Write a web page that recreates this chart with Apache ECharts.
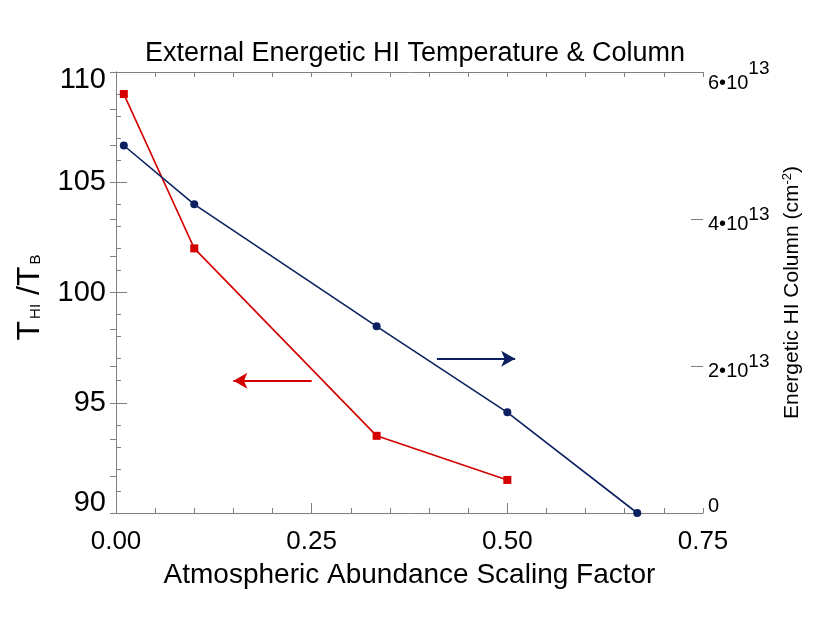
<!DOCTYPE html>
<html><head><meta charset="utf-8">
<script src="https://cdn.jsdelivr.net/npm/echarts@6/dist/echarts.min.js"></script>
<style>html,body{margin:0;padding:0;background:#fff}#c{width:830px;height:623px}</style>
</head><body><div id="c"></div>
<script>
const xRed = [0.01, 0.1, 0.333, 0.5];
const tempRed = [109.0, 102.0, 93.5, 91.5];
const xBlue = [0.01, 0.1, 0.333, 0.5, 0.666];
const colBlue = [5.0e13, 4.2e13, 2.54e13, 1.37e13, 0.0];
const xTickLabels = [0, 0.25, 0.5, 0.75];
const leftTickLabels = [90, 95, 100, 105, 110];
const rightTickLabels = [0, 2e13, 4e13, 6e13];
const redArrow = {from: [0.25, 96], to: [0.15, 96]};
const blueArrow = {from: [0.41, 2.1e13], to: [0.51, 2.1e13]};

const FONT = 'Liberation Sans, Arial, Helvetica, sans-serif';
const AX = '#808080';
const RED = '#d40000';
const BLUE = '#0c2061';

const chart = echarts.init(document.getElementById('c'));
chart.setOption({
  animation: false,
  backgroundColor: '#fff',
  title: {text: 'External Energetic HI Temperature & Column', left: 'center', top: 35,
    textStyle: {fontFamily: FONT, fontSize: 27, fontWeight: 'normal', color: '#000'}},
  grid: {left: 116, right: 127, top: 72, bottom: 110},
  xAxis: [
    {type: 'value', position: 'bottom', min: 0, max: 0.75, interval: 0.05,
     axisLine: {lineStyle: {color: AX}}, splitLine: {show: false},
     axisTick: {inside: true, length: 5, lineStyle: {color: AX}},
     axisLabel: {customValues: xTickLabels, formatter: v => v.toFixed(2), fontFamily: FONT, fontSize: 26, color: '#000', margin: 16},
     name: 'Atmospheric Abundance Scaling Factor', nameLocation: 'middle', nameGap: 48,
     nameTextStyle: {fontFamily: FONT, fontSize: 28, color: '#000'}},
    {type: 'value', position: 'bottom', min: 0, max: 0.75,
     axisLine: {show: false}, splitLine: {show: false},
     axisTick: {inside: true, length: 10, customValues: [0.25, 0.5], lineStyle: {color: AX}},
     axisLabel: {show: false}},
    {type: 'value', position: 'top', min: 0, max: 0.75, interval: 0.05,
     axisLine: {lineStyle: {color: AX}}, splitLine: {show: false},
     axisTick: {inside: true, length: 5, lineStyle: {color: AX}},
     axisLabel: {show: false}}
  ],
  yAxis: [
    {type: 'value', position: 'left', min: 90, max: 110, interval: 1,
     axisLine: {show: true, lineStyle: {color: AX}}, splitLine: {show: false},
     axisTick: {inside: true, length: 5, lineStyle: {color: AX}},
     axisLabel: {customValues: leftTickLabels, margin: 10,
       formatter: v => v === 110 ? '{d|110}' : (v === 90 ? '{u|90}' : '{n|' + v + '}'),
       rich: {
         n: {fontFamily: FONT, fontSize: 29, color: '#000'},
         d: {fontFamily: FONT, fontSize: 29, color: '#000', padding: [16, 0, 0, 0]},
         u: {fontFamily: FONT, fontSize: 29, color: '#000', padding: [0, 0, 20, 0]}
       }},
     name: '{t|T}{s|HI}{t| /T}{s|B}', nameLocation: 'middle', nameRotate: 90, nameGap: 70,
     nameTextStyle: {padding: [0, 10, 0, 0], rich: {
       t: {fontFamily: FONT, fontSize: 32, color: '#000'},
       s: {fontFamily: FONT, fontSize: 15, color: '#000', padding: [12, 0, 0, 2]}
     }}},
    {type: 'value', position: 'left', min: 90, max: 110,
     axisLine: {show: false}, splitLine: {show: false},
     axisTick: {inside: true, length: 11, customValues: [95, 100, 105], lineStyle: {color: AX}},
     axisLabel: {show: false}},
    {type: 'value', position: 'right', min: 0, max: 6e13, interval: 0.5e13,
     axisLine: {show: true, lineStyle: {color: AX}}, splitLine: {show: false},
     axisTick: {inside: true, length: 6, lineStyle: {color: AX}},
     axisLabel: {customValues: rightTickLabels, margin: 5,
       formatter: v => v === 0 ? '{z|0}' : (v === 6e13 ? '{bt|6•10}{pt|13}' : '{b|' + Math.round(v / 1e13) + '•10}{p|13}'),
       rich: {b: {fontFamily: FONT, fontSize: 20, color: '#000', padding: [10, 0, 0, 0]},
              p: {fontFamily: FONT, fontSize: 19, color: '#000', padding: [0, 0, 8, 0]},
              bt: {fontFamily: FONT, fontSize: 20, color: '#000', padding: [22, 0, 0, 0]},
              pt: {fontFamily: FONT, fontSize: 19, color: '#000', padding: [0, 0, 6, 0]},
              z: {fontFamily: FONT, fontSize: 20, color: '#000', padding: [0, 0, 14, 0]}}},
     name: '{t|Energetic HI Column (cm}{p|-2}{t|)}', nameLocation: 'middle', nameRotate: 90, nameGap: 78,
     nameTextStyle: {rich: {
       t: {fontFamily: FONT, fontSize: 21, color: '#000'},
       p: {fontFamily: FONT, fontSize: 13, color: '#000', padding: [0, 0, 9, 0]}
     }}},
    {type: 'value', position: 'right', min: 0, max: 6e13,
     axisLine: {show: false}, splitLine: {show: false},
     axisTick: {inside: true, length: 12, customValues: [2e13, 4e13], lineStyle: {color: AX}},
     axisLabel: {show: false}}
  ],
  series: [
    {type: 'line', xAxisIndex: 0, yAxisIndex: 0, clip: false,
     data: xRed.map((x, i) => [x, tempRed[i]]),
     symbol: 'rect', symbolSize: 8, itemStyle: {color: RED}, lineStyle: {color: RED, width: 1.6},
     markLine: {silent: true, symbol: ['none', 'arrow'], symbolSize: [12, 14], label: {show: false},
       lineStyle: {color: RED, width: 2, type: 'solid'},
       data: [[{coord: redArrow.from}, {coord: redArrow.to}]]}},
    {type: 'line', xAxisIndex: 0, yAxisIndex: 2, clip: false,
     data: xBlue.map((x, i) => [x, colBlue[i]]),
     symbol: 'circle', symbolSize: 8, itemStyle: {color: BLUE}, lineStyle: {color: BLUE, width: 1.6},
     markLine: {silent: true, symbol: ['none', 'arrow'], symbolSize: [12, 14], label: {show: false},
       lineStyle: {color: BLUE, width: 2, type: 'solid'},
       data: [[{coord: blueArrow.from}, {coord: blueArrow.to}]]}}
  ]
});
</script></body></html>
